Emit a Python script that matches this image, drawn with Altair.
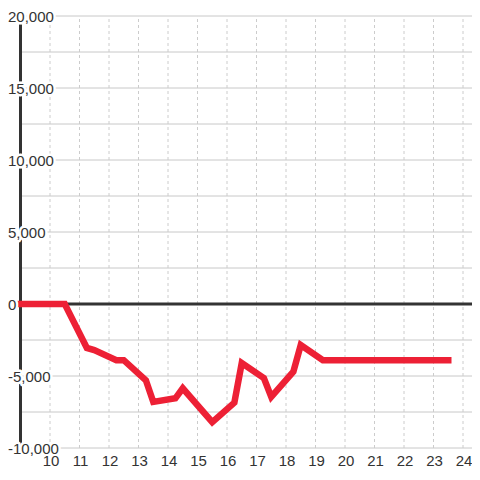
import altair as alt
import pandas as pd

# data
hours = [9, 10.5, 11.25, 11.5, 12.25, 12.5, 13.25, 13.5, 14.25, 14.5, 15.5,
         16.25, 16.5, 17.25, 17.5, 18.25, 18.5, 19.25, 23.5]
values = [0, 0, -3050, -3200, -3900, -3900, -5300, -6800, -6550, -5850, -8200,
          -6850, -4100, -5150, -6450, -4700, -2850, -3900, -3900]

y_label_values = [20000, 15000, 10000, 5000, 0, -5000, -10000]
y_label_texts = ["20,000", "15,000", "10,000", "5,000", "0", "-5,000", "-10,000"]
y_grid_values = list(range(-10000, 20001, 2500))
x_tick_values = list(range(10, 25))
x_tick_texts = [str(v) for v in x_tick_values]

X_START = 9
X_END = 24.305
Y_DOMAIN = [-10000, 20000]

line_df = pd.DataFrame({"hour": hours, "value": values})
ylab_df = pd.DataFrame({"v": y_label_values, "t": y_label_texts,
                        "x0": [X_START] * len(y_label_values)})
xlab_df = pd.DataFrame({"h": x_tick_values, "t": x_tick_texts,
                        "y0": [Y_DOMAIN[0]] * len(x_tick_values)})
hgrid_df = pd.DataFrame({"v": y_grid_values, "a": [X_START] * len(y_grid_values),
                         "b": [X_END] * len(y_grid_values)})
vgrid_df = pd.DataFrame({"h": x_tick_values, "lo": [Y_DOMAIN[0]] * len(x_tick_values),
                         "hi": [Y_DOMAIN[1]] * len(x_tick_values)})
zero_df = pd.DataFrame({"a": [X_START], "b": [X_END], "v": [0]})
vline_df = pd.DataFrame({"h": [X_START], "lo": [Y_DOMAIN[0]], "hi": [Y_DOMAIN[1]]})

FONT = "Liberation Sans"
TXT = "#333333"

x_scale = alt.Scale(domain=[X_START, X_END], nice=False, zero=False)
y_scale = alt.Scale(domain=Y_DOMAIN, nice=False, zero=False)


def X(field):
    return alt.X(field, type="quantitative", scale=x_scale, axis=None)


def Y(field):
    return alt.Y(field, type="quantitative", scale=y_scale, axis=None)


hgrid = alt.Chart(hgrid_df).mark_rule(color="#c8c8c8", strokeWidth=1).encode(
    x=X("a"), x2="b", y=Y("v"),
)

vgrid = alt.Chart(vgrid_df).mark_rule(color="#cccccc", strokeWidth=1,
                                      strokeDash=[3, 3]).encode(
    x=X("h"), y=Y("lo"), y2="hi",
)

zero_line = alt.Chart(zero_df).mark_rule(color="#333333", strokeWidth=3).encode(
    x=X("a"), x2="b", y=Y("v"),
)

v_line = alt.Chart(vline_df).mark_rule(color="#333333", strokeWidth=3).encode(
    x=X("h"), y=Y("lo"), y2="hi",
)

red = alt.Chart(line_df).mark_line(color="#ed2035", strokeWidth=6.5,
                                   strokeCap="square", strokeJoin="miter").encode(
    x=X("hour"), y=Y("value"),
)

halo = alt.Chart(ylab_df).mark_text(
    align="left", baseline="middle", font=FONT, fontSize=15, dx=-12.5, dy=1,
    fill="white", stroke="white", strokeWidth=5, strokeJoin="round"
).encode(x=X("x0"), y=Y("v"), text="t:N")

ylabels = alt.Chart(ylab_df).mark_text(
    align="left", baseline="middle", font=FONT, fontSize=15, dx=-12.5, dy=1,
    color=TXT
).encode(x=X("x0"), y=Y("v"), text="t:N")

xlabels = alt.Chart(xlab_df).mark_text(
    align="center", baseline="alphabetic", font=FONT, fontSize=15, dx=1, dy=18,
    color=TXT
).encode(x=X("h"), y=Y("y0"), text="t:N")

chart = alt.layer(hgrid, vgrid, zero_line, v_line, red, halo, ylabels,
                  xlabels).properties(
    width=451.5, height=432,
    autosize=alt.AutoSizeParams(type="none"),
    padding={"left": 12.5, "top": 8, "right": 0, "bottom": 22},
    background="white",
).configure_view(stroke=None)

chart.save("out.html", embed_options={"renderer": "svg", "actions": False})
